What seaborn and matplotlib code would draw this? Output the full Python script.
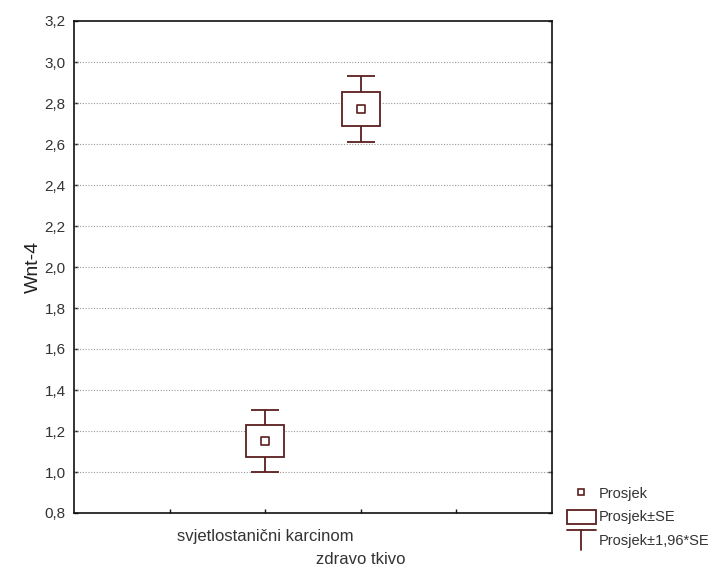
import matplotlib
matplotlib.use("Agg")
import matplotlib.pyplot as plt
from matplotlib.patches import Rectangle
from matplotlib.lines import Line2D
from matplotlib.legend_handler import HandlerBase
from matplotlib.transforms import blended_transform_factory, ScaledTranslation
import seaborn as sns
import pandas as pd

# Group means of Wnt-4 expression and their standard errors
groups = ["svjetlostanični karcinom", "zdravo tkivo"]
means = [1.15, 2.77]
se = [0.077, 0.083]
y_ticks = [0.8, 1.0, 1.2, 1.4, 1.6, 1.8, 2.0, 2.2, 2.4, 2.6, 2.8, 3.0, 3.2]

COL = "#5c1f1f"
positions = list(range(len(groups)))
df = pd.DataFrame({"pos": positions, "mean": means, "se": se, "group": groups})

sns.set_theme(style="white")
plt.rcParams["font.family"] = ["Liberation Sans", "DejaVu Sans"]

fig = plt.figure(figsize=(7.19, 5.74), dpi=100)
ax = fig.add_axes([74 / 719, 1 - 513 / 574, (552 - 74) / 719, (513 - 21) / 574])

box_w = 0.40
cap_w = 0.29
for _, r in df.iterrows():
    lo, hi = r["mean"] - r["se"], r["mean"] + r["se"]
    wlo, whi = r["mean"] - 1.96 * r["se"], r["mean"] + 1.96 * r["se"]
    ax.add_patch(Rectangle((r["pos"] - box_w / 2, lo), box_w, hi - lo,
                           facecolor="white", edgecolor=COL, lw=1.3, zorder=3))
    ax.vlines(r["pos"], hi, whi, color=COL, lw=1.3, zorder=3)
    ax.vlines(r["pos"], wlo, lo, color=COL, lw=1.3, zorder=3)
    ax.hlines([whi, wlo], r["pos"] - cap_w / 2, r["pos"] + cap_w / 2,
              color=COL, lw=1.3, zorder=3)

sns.scatterplot(data=df, x="pos", y="mean", marker="s", s=30,
                facecolor="white", edgecolor=COL, linewidth=1.2,
                zorder=4, ax=ax, legend=False)

ax.set_xlim(-2, 3)
ax.set_ylim(0.8, 3.2)
ax.set_yticks(y_ticks)
ax.set_yticklabels([f"{v:.1f}".replace(".", ",") for v in y_ticks])
ax.set_xticks([-1, 0, 1, 2])
ax.set_xticklabels([])
ax.set_xlabel("")
ax.set_ylabel("Wnt-4", fontsize=14, color="#222222", labelpad=2)

# Category names under the axis, alternating between two rows
xtrans = blended_transform_factory(ax.transData, ax.transAxes)
for i, (p, name) in enumerate(zip(positions, groups)):
    off = ScaledTranslation(0, -(24 + 23 * (i % 2)) / 100, fig.dpi_scale_trans)
    ax.text(p, 0, name, transform=xtrans + off, ha="center", va="center",
            fontsize=12, color="#333333")

for yv in y_ticks[1:-1]:
    ax.axhline(yv, color="#9a9a9a", lw=0.8, ls=(0, (1, 1.5)), zorder=1)

for s in ax.spines.values():
    s.set_color("#111111")
    s.set_linewidth(1.2)
ax.tick_params(axis="both", direction="in", length=3, width=1, color="#111111",
               labelcolor="#333333", right=True, left=True,
               bottom=True, top=False)
ax.tick_params(axis="y", labelsize=11, pad=6)


class IBarHandler(HandlerBase):
    def create_artists(self, legend, orig_handle, xdescent, ydescent,
                       width, height, fontsize, trans):
        x0, x1 = -xdescent, -xdescent + width
        xm = (x0 + x1) / 2
        yt = -ydescent + height * 1.25
        yb = -ydescent - height * 0.2
        cap = Line2D([x0, x1], [yt, yt], color=COL, lw=1.3, transform=trans)
        stem = Line2D([xm, xm], [yt, yb], color=COL, lw=1.3, transform=trans)
        return [cap, stem]


h_mean = Line2D([], [], marker="s", ls="none", markersize=5,
                markerfacecolor="white", markeredgecolor=COL, markeredgewidth=1.2)
h_box = Rectangle((0, 0), 1, 1, facecolor="white", edgecolor=COL, lw=1.3)
h_bar = object()
fig.legend([h_mean, h_box, h_bar],
           ["Prosjek", "Prosjek±SE", "Prosjek±1,96*SE"],
           handler_map={h_bar: IBarHandler()},
           loc="lower left", bbox_to_anchor=(561 / 719, 20 / 574),
           frameon=False, fontsize=10.5, handlelength=2.0, handleheight=1.1,
           handletextpad=0.2, labelspacing=0.6, borderaxespad=0,
           labelcolor="#333333")

fig.savefig("out.png", dpi=100)
